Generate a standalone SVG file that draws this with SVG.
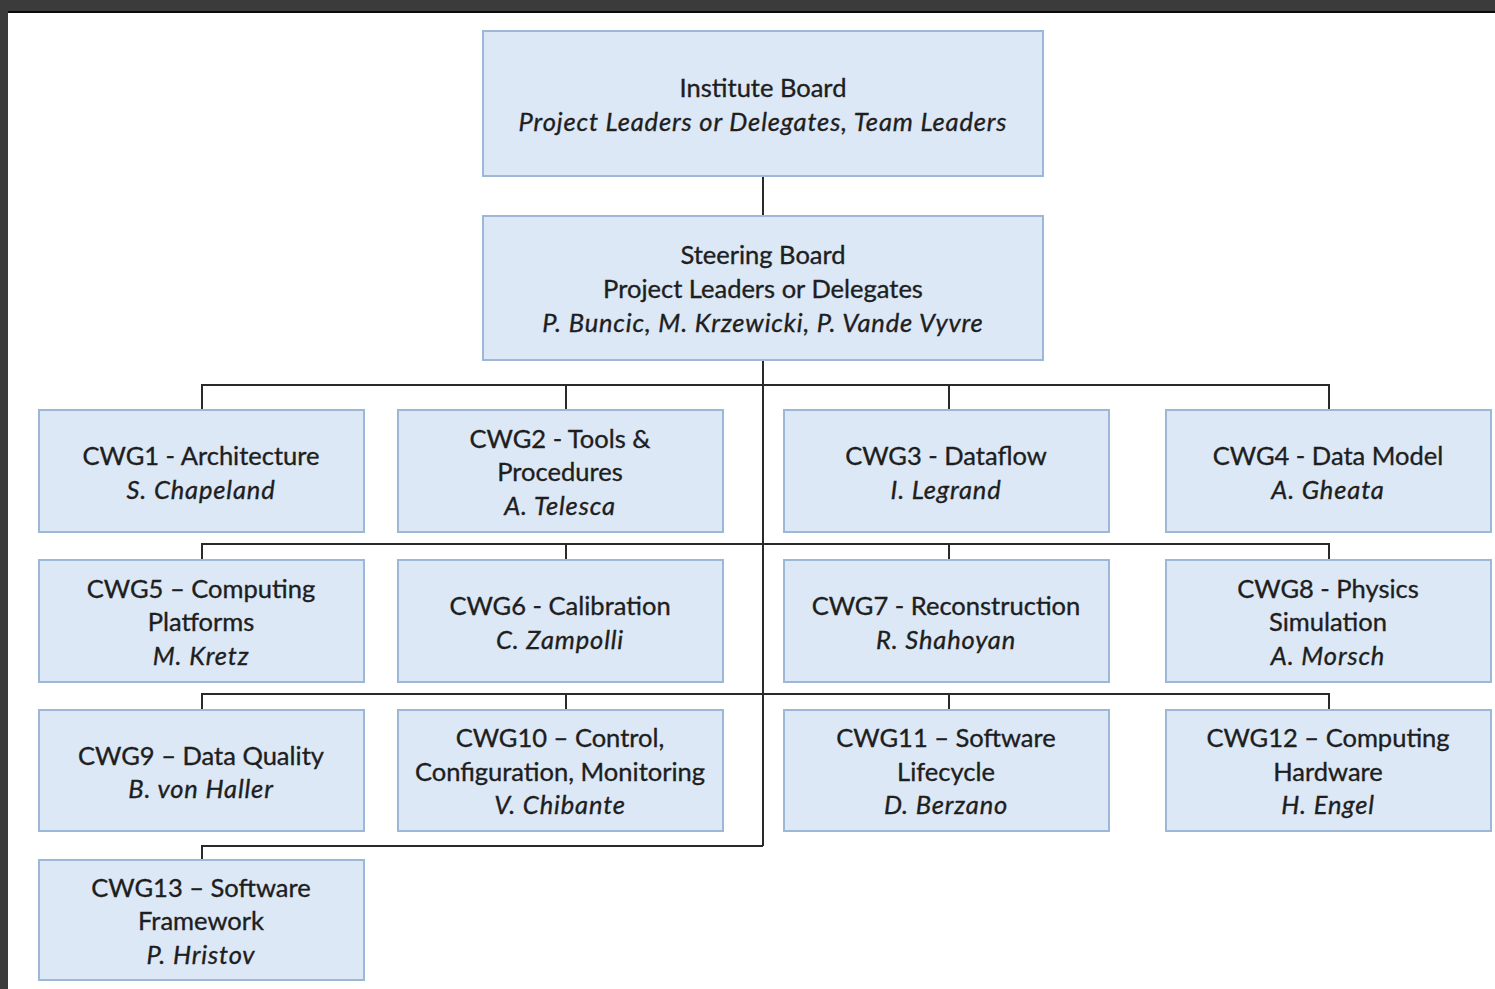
<svg xmlns="http://www.w3.org/2000/svg" width="1495" height="989" viewBox="0 0 1495 989">
  <style>
    .box { fill: #dce8f6; stroke: #9db8d6; stroke-width: 2; }
    .t { font-family: Lato, "Open Sans", "Liberation Sans", sans-serif; font-size: 25.5px; fill: #1e1e1e; stroke: #1e1e1e; stroke-width: 0.35; text-anchor: middle; }
    .i { font-style: italic; letter-spacing: 0.85px; }
    .wire { fill: none; stroke: #2a2a2a; stroke-width: 2; }
  </style>
  <!-- dark frame and white sheet -->
  <rect x="0" y="0" width="1495" height="989" fill="#3b3b3b"/>
  <rect x="8" y="12" width="1487" height="977" fill="#ffffff"/>
  <line x1="8" y1="12" x2="1495" y2="12" stroke="#0a0a0a" stroke-width="2"/>

  <g id="connectors">
    <path class="wire" d="M763 176 V216 M763 360 V846"/>
    <path class="wire" d="M202 410 V385 H1329 V410 M566 385 V410 M949 385 V410"/>
    <path class="wire" d="M202 560 V544 H1329 V560 M566 544 V560 M949 544 V560"/>
    <path class="wire" d="M202 710 V694 H1329 V710 M566 694 V710 M949 694 V710"/>
    <path class="wire" d="M202 860 V846 H763"/>
  </g>

  <g id="institute-board">
    <rect class="box" x="483" y="31" width="560" height="145"/>
    <text class="t" x="763" y="97">Institute Board</text>
    <text class="t i" x="763" y="131">Project Leaders or Delegates, Team Leaders</text>
  </g>
  <g id="steering-board">
    <rect class="box" x="483" y="216" width="560" height="144"/>
    <text class="t" x="763" y="264">Steering Board</text>
    <text class="t" x="763" y="298">Project Leaders or Delegates</text>
    <text class="t i" x="763" y="332">P. Buncic, M. Krzewicki, P. Vande Vyvre</text>
  </g>

  <g id="cwg1">
    <rect class="box" x="39" y="410" width="325" height="122"/>
    <text class="t" x="201" y="465">CWG1 - Architecture</text>
    <text class="t i" x="201" y="499">S. Chapeland</text>
  </g>
  <g id="cwg2">
    <rect class="box" x="398" y="410" width="325" height="122"/>
    <text class="t" x="560" y="448">CWG2 - Tools &amp;</text>
    <text class="t" x="560" y="481">Procedures</text>
    <text class="t i" x="560" y="515">A. Telesca</text>
  </g>
  <g id="cwg3">
    <rect class="box" x="784" y="410" width="325" height="122"/>
    <text class="t" x="946" y="465">CWG3 - Dataflow</text>
    <text class="t i" x="946" y="499">I. Legrand</text>
  </g>
  <g id="cwg4">
    <rect class="box" x="1166" y="410" width="325" height="122"/>
    <text class="t" x="1328" y="465">CWG4 - Data Model</text>
    <text class="t i" x="1328" y="499">A. Gheata</text>
  </g>

  <g id="cwg5">
    <rect class="box" x="39" y="560" width="325" height="122"/>
    <text class="t" x="201" y="598">CWG5 – Computing</text>
    <text class="t" x="201" y="631">Platforms</text>
    <text class="t i" x="201" y="665">M. Kretz</text>
  </g>
  <g id="cwg6">
    <rect class="box" x="398" y="560" width="325" height="122"/>
    <text class="t" x="560" y="615">CWG6 - Calibration</text>
    <text class="t i" x="560" y="649">C. Zampolli</text>
  </g>
  <g id="cwg7">
    <rect class="box" x="784" y="560" width="325" height="122"/>
    <text class="t" x="946" y="615">CWG7 - Reconstruction</text>
    <text class="t i" x="946" y="649">R. Shahoyan</text>
  </g>
  <g id="cwg8">
    <rect class="box" x="1166" y="560" width="325" height="122"/>
    <text class="t" x="1328" y="598">CWG8 - Physics</text>
    <text class="t" x="1328" y="631">Simulation</text>
    <text class="t i" x="1328" y="665">A. Morsch</text>
  </g>

  <g id="cwg9">
    <rect class="box" x="39" y="710" width="325" height="121"/>
    <text class="t" x="201" y="765">CWG9 – Data Quality</text>
    <text class="t i" x="201" y="798">B. von Haller</text>
  </g>
  <g id="cwg10">
    <rect class="box" x="398" y="710" width="325" height="121"/>
    <text class="t" x="560" y="747">CWG10 – Control,</text>
    <text class="t" x="560" y="781">Configuration, Monitoring</text>
    <text class="t i" x="560" y="814">V. Chibante</text>
  </g>
  <g id="cwg11">
    <rect class="box" x="784" y="710" width="325" height="121"/>
    <text class="t" x="946" y="747">CWG11 – Software</text>
    <text class="t" x="946" y="781">Lifecycle</text>
    <text class="t i" x="946" y="814">D. Berzano</text>
  </g>
  <g id="cwg12">
    <rect class="box" x="1166" y="710" width="325" height="121"/>
    <text class="t" x="1328" y="747">CWG12 – Computing</text>
    <text class="t" x="1328" y="781">Hardware</text>
    <text class="t i" x="1328" y="814">H. Engel</text>
  </g>

  <g id="cwg13">
    <rect class="box" x="39" y="860" width="325" height="120"/>
    <text class="t" x="201" y="897">CWG13 – Software</text>
    <text class="t" x="201" y="930">Framework</text>
    <text class="t i" x="201" y="964">P. Hristov</text>
  </g>
</svg>
